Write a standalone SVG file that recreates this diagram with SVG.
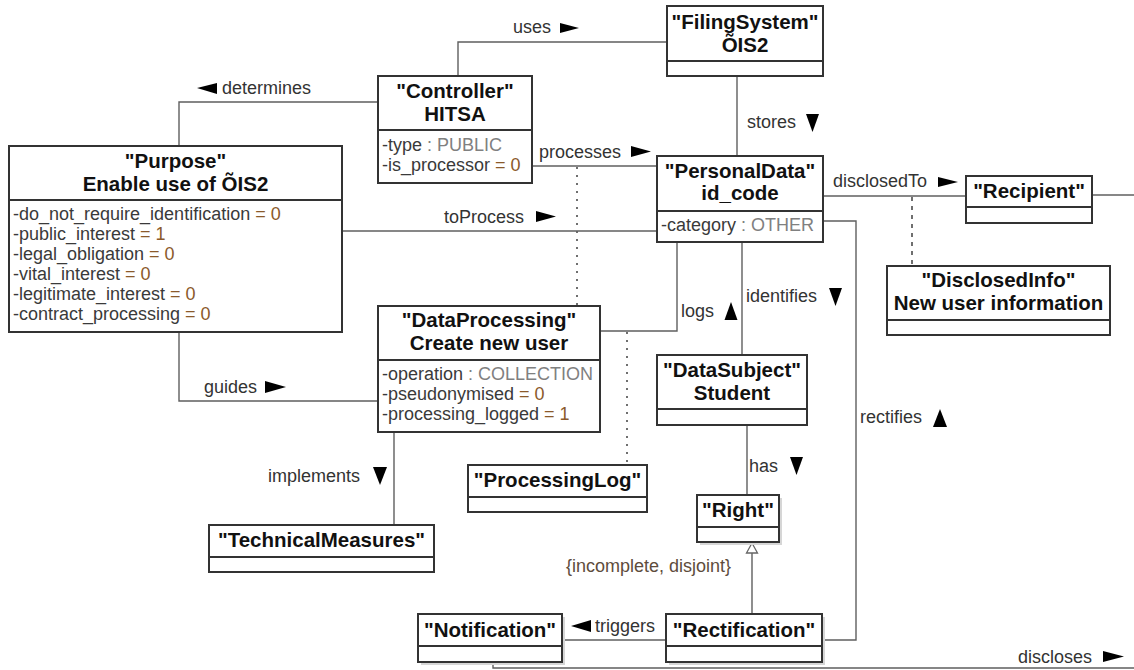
<svg xmlns="http://www.w3.org/2000/svg" width="1134" height="670" viewBox="0 0 1134 670">
  <style>
    .box { fill: #ffffff; stroke: #333333; stroke-width: 2; }
    .sep { stroke: #333333; stroke-width: 2; }
    .shadow { fill: #d6d6d6; }
    .title { font-family: "Liberation Sans", Arial, sans-serif; font-size: 20.5px; font-weight: bold; fill: #111111; text-anchor: middle; }
    .attr { font-family: "Liberation Sans", Arial, sans-serif; font-size: 18px; fill: #3a3a3a; }
    .val { fill: #8b5a2b; }
    .enum { fill: #808080; }
    .lbl { font-family: "Liberation Sans", Arial, sans-serif; font-size: 18px; fill: #333333; }
    .cons { font-family: "Liberation Sans", Arial, sans-serif; font-size: 18px; fill: #5e4c3c; }
    .conn { fill: none; stroke: #5f5f5f; stroke-width: 1.4; }
    .dotted { stroke-dasharray: 2 6; stroke: #333333; }
    .dashed { stroke-dasharray: 4 5; stroke: #333333; }
    .dir { fill: #000000; }
  </style>

  <!-- connectors -->
  <g id="connectors">
    <path class="conn" d="M458,76 V42 H667"/>
    <path class="conn" d="M378,102 H179 V146"/>
    <path class="conn" d="M737,76 V156"/>
    <path class="conn" d="M532,166 H657"/>
    <path class="conn dotted" d="M577,167 V306"/>
    <path class="conn" d="M342,231 H657"/>
    <path class="conn" d="M823,196 H966"/>
    <path class="conn dashed" d="M912,197 V266"/>
    <path class="conn" d="M1092,195 H1134"/>
    <path class="conn" d="M823,221 H856 V640 H822"/>
    <path class="conn" d="M600,331 H677 V242"/>
    <path class="conn dotted" d="M627,332 V465"/>
    <path class="conn" d="M742,242 V355"/>
    <path class="conn" d="M747,425 V495"/>
    <path class="conn" d="M752,614 V553"/>
    <polygon points="752,543 746.5,553 757.5,553" fill="#ffffff" stroke="#666666" stroke-width="1.3"/>
    <path class="conn" d="M562,640 H666"/>
    <path class="conn" d="M493,662 V668 H1134"/>
    <path class="conn" d="M179,332 V401 H378"/>
    <path class="conn" d="M394,432 V525"/>

    <!-- association labels with reading direction -->
    <text class="lbl" x="513" y="33">uses</text>
    <polygon class="dir" points="560,23 579,28 560,33"/>
    <polygon class="dir" points="197,88 217,83 217,94"/>
    <text class="lbl" x="222" y="94">determines</text>
    <text class="lbl" x="747" y="128">stores</text>
    <polygon class="dir" points="806,114 819,114 812.5,132"/>
    <text class="lbl" x="539" y="158">processes</text>
    <polygon class="dir" points="631,146 651,151.5 631,157"/>
    <text class="lbl" x="444" y="223">toProcess</text>
    <polygon class="dir" points="536,211 556,216.5 536,222"/>
    <text class="lbl" x="833" y="187">disclosedTo</text>
    <polygon class="dir" points="938,177 958,182 938,187"/>
    <text class="lbl" x="681" y="317">logs</text>
    <polygon class="dir" points="731,302 737.5,320 724.5,320"/>
    <text class="lbl" x="746" y="302">identifies</text>
    <polygon class="dir" points="829,288 842,288 835.5,306"/>
    <text class="lbl" x="749" y="472">has</text>
    <polygon class="dir" points="790,457 803,457 796.5,475"/>
    <text class="lbl" x="860" y="423">rectifies</text>
    <polygon class="dir" points="940,409 947,427 933,427"/>
    <text class="lbl" x="204" y="393">guides</text>
    <polygon class="dir" points="265,381 286,387 265,393"/>
    <text class="lbl" x="268" y="482">implements</text>
    <polygon class="dir" points="373,467 387,467 380,485"/>
    <polygon class="dir" points="571,626 591,620 591,632"/>
    <text class="lbl" x="595" y="632">triggers</text>
    <text class="lbl" x="1018" y="663">discloses</text>
    <polygon class="dir" points="1103,651 1124,656.5 1103,662"/>
    <text class="cons" x="566" y="572">{incomplete, disjoint}</text>
  </g>

  <g id="purpose">
    <rect class="box" x="9" y="146" width="333" height="186"/>
    <line class="sep" x1="9" y1="200" x2="342" y2="200"/>
    <text class="title" x="175.5" y="168">"Purpose"</text>
    <text class="title" x="175.5" y="191">Enable use of ÕIS2</text>
    <text class="attr" x="13" y="220">-do_not_require_identification <tspan class="val">= 0</tspan></text>
    <text class="attr" x="13" y="240">-public_interest <tspan class="val">= 1</tspan></text>
    <text class="attr" x="13" y="260">-legal_obligation <tspan class="val">= 0</tspan></text>
    <text class="attr" x="13" y="280">-vital_interest <tspan class="val">= 0</tspan></text>
    <text class="attr" x="13" y="300">-legitimate_interest <tspan class="val">= 0</tspan></text>
    <text class="attr" x="13" y="320">-contract_processing <tspan class="val">= 0</tspan></text>
  </g>

  <g id="controller">
    <rect class="box" x="378" y="76" width="154" height="107"/>
    <line class="sep" x1="378" y1="130" x2="532" y2="130"/>
    <text class="title" x="455" y="98">"Controller"</text>
    <text class="title" x="455" y="121">HITSA</text>
    <text class="attr" x="382" y="151">-type <tspan class="enum">: PUBLIC</tspan></text>
    <text class="attr" x="382" y="171">-is_processor <tspan class="val">= 0</tspan></text>
  </g>

  <g id="filing-system">
    <rect class="box" x="667" y="6" width="156" height="70"/>
    <line class="sep" x1="667" y1="61" x2="823" y2="61"/>
    <text class="title" x="745" y="29">"FilingSystem"</text>
    <text class="title" x="745" y="52">ÕIS2</text>
  </g>

  <g id="personal-data">
    <rect class="box" x="657" y="156" width="166" height="86"/>
    <line class="sep" x1="657" y1="211" x2="823" y2="211"/>
    <text class="title" x="740" y="178">"PersonalData"</text>
    <text class="title" x="740" y="200">id_code</text>
    <text class="attr" x="661" y="231">-category <tspan class="enum">: OTHER</tspan></text>
  </g>

  <g id="recipient">
    <rect class="box" x="966" y="176" width="126" height="47"/>
    <line class="sep" x1="966" y1="207" x2="1092" y2="207"/>
    <text class="title" x="1029" y="198">"Recipient"</text>
  </g>

  <g id="disclosed-info">
    <rect class="box" x="887" y="266" width="223" height="69"/>
    <line class="sep" x1="887" y1="320" x2="1110" y2="320"/>
    <text class="title" x="998.5" y="287">"DisclosedInfo"</text>
    <text class="title" x="998.5" y="310">New user information</text>
  </g>

  <g id="data-processing">
    <rect class="box" x="378" y="306" width="222" height="126"/>
    <line class="sep" x1="378" y1="360" x2="600" y2="360"/>
    <text class="title" x="489" y="327">"DataProcessing"</text>
    <text class="title" x="489" y="350">Create new user</text>
    <text class="attr" x="382" y="380">-operation <tspan class="enum">: COLLECTION</tspan></text>
    <text class="attr" x="382" y="400">-pseudonymised <tspan class="val">= 0</tspan></text>
    <text class="attr" x="382" y="420">-processing_logged <tspan class="val">= 1</tspan></text>
  </g>

  <g id="processing-log">
    <rect class="box" x="468" y="465" width="179" height="47"/>
    <line class="sep" x1="468" y1="497" x2="647" y2="497"/>
    <text class="title" x="557.5" y="487">"ProcessingLog"</text>
  </g>

  <g id="data-subject">
    <rect class="box" x="657" y="355" width="150" height="70"/>
    <line class="sep" x1="657" y1="409" x2="807" y2="409"/>
    <text class="title" x="732" y="377">"DataSubject"</text>
    <text class="title" x="732" y="400">Student</text>
  </g>

  <g id="right">
    <rect class="shadow" x="700" y="498" width="82" height="47"/>
    <rect class="box" x="697" y="495" width="82" height="47"/>
    <line class="sep" x1="697" y1="527" x2="779" y2="527"/>
    <text class="title" x="738" y="517">"Right"</text>
  </g>

  <g id="technical-measures">
    <rect class="box" x="209" y="525" width="225" height="47"/>
    <line class="sep" x1="209" y1="557" x2="434" y2="557"/>
    <text class="title" x="321.5" y="547">"TechnicalMeasures"</text>
  </g>

  <g id="notification">
    <rect class="shadow" x="421" y="617" width="144" height="48"/>
    <rect class="box" x="418" y="614" width="144" height="48"/>
    <line class="sep" x1="418" y1="646" x2="562" y2="646"/>
    <text class="title" x="490" y="637">"Notification"</text>
  </g>

  <g id="rectification">
    <rect class="shadow" x="669" y="617" width="156" height="48"/>
    <rect class="box" x="666" y="614" width="156" height="48"/>
    <line class="sep" x1="666" y1="646" x2="822" y2="646"/>
    <text class="title" x="744" y="637">"Rectification"</text>
  </g>
</svg>
